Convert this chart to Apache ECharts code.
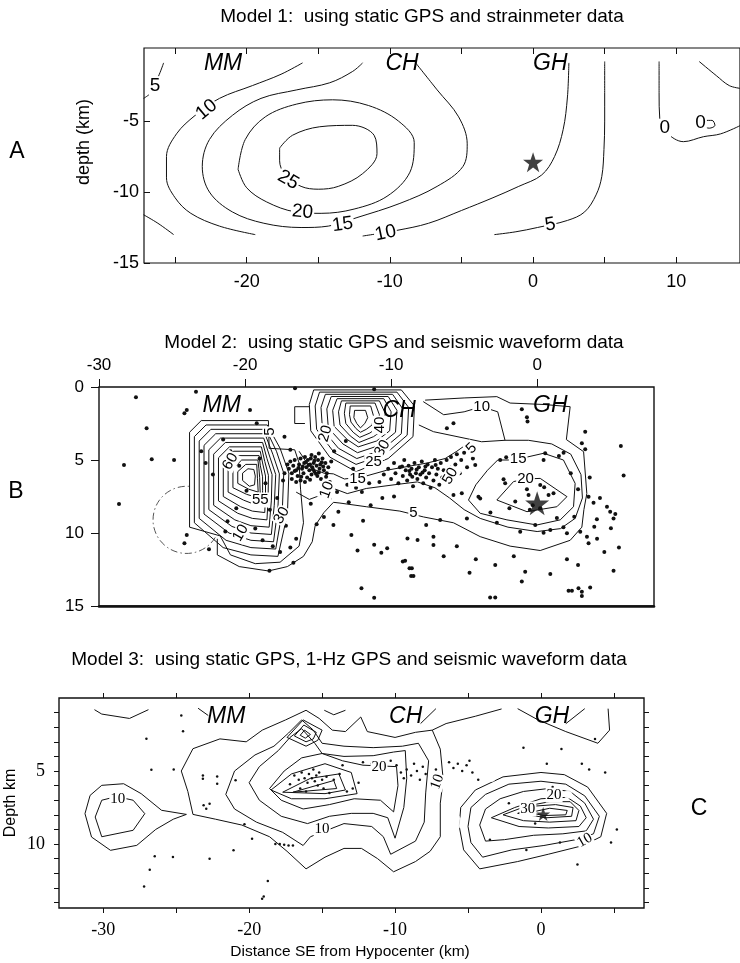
<!DOCTYPE html>
<html>
<head>
<meta charset="utf-8">
<script src="https://cdn.jsdelivr.net/npm/echarts@6/dist/echarts.min.js"></script>
<style>
  html, body { margin: 0; padding: 0; background: #fff; }
  #chart { width: 740px; height: 963px; }
</style>
</head>
<body>
<div id="chart"></div>
<script>
// ---------- panel A (Model 1) ----------
const ticksXA = [-25, -20, -15, -10, -5, 0, 5, 10]
const labelsXA = [-20, -10, 0, 10]
const ticksYA = [-15, -10, -5]

const a25 = [[-17.7,-6.9],[-16.8,-6.0],[-14.9,-5.4],[-12.6,-5.3],[-11.1,-6.0],[-10.9,-7.3],[-11.9,-8.7],[-13.6,-9.6],[-15.0,-9.8],[-16.2,-9.6],[-17.3,-8.8],[-17.7,-7.8],[-17.7,-6.9]]
const a20 = [[-20.6,-8.4],[-20.1,-6.3],[-18.7,-4.7],[-16.5,-3.8],[-14.0,-3.5],[-11.5,-3.9],[-9.4,-5.0],[-8.3,-6.5],[-8.6,-8.6],[-10.2,-10.3],[-12.5,-11.2],[-14.8,-11.5],[-16.6,-11.4],[-18.6,-10.7],[-20.0,-9.7],[-20.6,-8.4]]
const a15 = [[-11.9,-0.9],[-12.6,-1.5],[-14.2,-2.3],[-16.5,-2.8],[-19.0,-3.4],[-21.0,-4.6],[-22.6,-6.3],[-23.1,-8.2],[-22.6,-10.0],[-21.0,-11.4],[-18.8,-12.2],[-16.2,-12.5],[-14.3,-12.4],[-12.3,-11.8],[-9.3,-10.8],[-6.7,-9.6],[-4.9,-8.2],[-4.6,-6.6],[-5.2,-4.7],[-6.7,-2.8],[-8.2,-0.9]]
const a10L = [[-16.1,-0.9],[-17.6,-1.7],[-19.6,-2.5],[-21.9,-3.4],[-23.6,-4.6],[-24.9,-5.9],[-25.6,-7.5],[-25.6,-9.0],[-25.0,-10.4],[-23.9,-11.5],[-21.9,-12.4],[-19.4,-13.0]]
const a10R = [[-11.9,-13.1],[-9.5,-12.7],[-7.3,-12.2],[-5.0,-11.3],[-2.8,-10.4],[-1.0,-9.6],[0.6,-8.8],[1.5,-7.5],[2.1,-5.6],[2.4,-3.3],[2.5,-0.9]]
const a5R = [[-2.7,-13.0],[-1.2,-12.8],[0.3,-12.5],[2.4,-12.0],[3.6,-11.4],[4.4,-10.2],[4.8,-8.9],[4.95,-7.0],[5.0,-5.0],[5.0,-3.0],[5.0,-0.8]]
const a5TL = [[-25.8,-0.9],[-26.1,-1.7],[-26.7,-3.0],[-27.2,-3.4]]
const a5BL = [[-27.2,-11.6],[-26.2,-12.2],[-25.1,-13.0]]
const a0 = [[8.8,-0.8],[8.8,-3.0],[8.85,-4.9],[9.3,-5.8],[10.5,-6.45],[11.9,-6.1],[13.1,-5.9],[14.5,-5.3]]
const a0top = [[11.6,-0.8],[12.8,-1.8],[13.7,-2.5],[14.5,-2.7]]
const a0loop = [[11.9,-5.4],[12.0,-4.95],[12.5,-4.95],[12.7,-5.3],[12.3,-5.5],[11.9,-5.4]]
const contoursA = [a25, a20, a15, a10L, a10R, a5R, a5TL, a5BL, a0, a0top, a0loop]
const labelsA = [[-17.1,-9.15,'25'],[-16.1,-11.4,'20'],[-13.3,-12.3,'15'],[-10.3,-12.9,'10'],[-22.8,-4.2,'10'],[-26.4,-2.5,'5'],[1.2,-12.3,'5'],[9.2,-5.5,'0'],[11.7,-5.1,'0']]
const rotA = [-30, -5, 8, 12, 40, 0, 10, 0, 0]
const sitesA = [[-21.65,-0.95,'MM'],[-9.15,-0.95,'CH'],[1.2,-0.95,'GH']]
const hypoA = [[0, -7.9]]

// ---------- panel B (Model 2) ----------
const ticksXB = [-30, -20, -10, 0]
const ticksYB = [0, 5, 10, 15]

const bMM0 = [[-23.8,3.1],[-23.0,2.3],[-18.4,2.3],[-18.35,4.2],[-16.6,4.3],[-16.3,5.2],[-16.2,7.0],[-16.0,9.3],[-16.3,10.9],[-17.6,12.0],[-19.3,12.1],[-21.0,11.5],[-21.7,10.2],[-23.8,9.6],[-23.8,3.1]]
const bMM1 = [[-23.47,3.4],[-22.67,2.6],[-18.48,2.6],[-17.6,4.2],[-17.0,5.9],[-17.1,8.7],[-17.75,11.6],[-19.6,11.5],[-21.5,11.0],[-23.47,9.3],[-23.47,3.4]]
const bMM2 = [[-23.14,3.7],[-22.34,2.9],[-18.56,2.9],[-17.85,4.4],[-17.35,5.9],[-17.45,8.5],[-17.9,11.1],[-19.6,11.0],[-21.3,10.5],[-23.14,9.0],[-23.14,3.7]]
const bMM3 = [[-22.81,4.0],[-22.01,3.2],[-18.64,3.2],[-18.1,4.6],[-17.65,5.95],[-17.75,8.3],[-18.05,10.6],[-19.6,10.5],[-21.1,10.0],[-22.81,8.7],[-22.81,4.0]]
const bMM4 = [[-22.48,4.3],[-21.68,3.5],[-18.72,3.5],[-18.3,4.8],[-17.9,6.0],[-18.0,8.1],[-18.2,10.1],[-19.6,10.0],[-20.9,9.55],[-22.48,8.4],[-22.48,4.3]]
const bMM5 = [[-22.15,4.6],[-21.35,3.8],[-18.8,3.8],[-18.5,4.9],[-18.15,6.0],[-18.2,7.8],[-18.35,9.6],[-19.6,9.5],[-20.7,9.1],[-22.15,8.1],[-22.15,4.6]]
const bMM6 = [[-21.82,4.85],[-21.07,4.1],[-18.88,4.1],[-18.65,5.1],[-18.4,6.05],[-18.42,7.6],[-18.5,9.1],[-19.5,9.0],[-20.5,8.65],[-21.82,7.8],[-21.82,4.85]]
const bMM7 = [[-21.49,5.1],[-20.79,4.4],[-18.96,4.4],[-18.8,5.2],[-18.6,6.1],[-18.6,7.3],[-18.65,8.6],[-19.5,8.5],[-20.3,8.2],[-21.49,7.5],[-21.49,5.1]]
const bMM8 = [[-21.16,5.35],[-20.51,4.7],[-19.04,4.7],[-18.95,5.4],[-18.8,6.15],[-18.8,7.1],[-18.8,8.1],[-19.45,8.0],[-20.1,7.75],[-21.16,7.2],[-21.16,5.35]]
const bMM9 = [[-20.83,5.6],[-20.23,5.0],[-19.12,5.0],[-19.05,5.6],[-19.0,6.2],[-18.95,7.6],[-19.4,7.5],[-19.9,7.35],[-20.83,6.9],[-20.83,5.6]]
const bMM10 = [[-20.5,5.8],[-19.95,5.3],[-19.2,5.3],[-19.15,6.25],[-19.1,7.2],[-19.75,7.0],[-20.5,6.6],[-20.5,5.8]]
const bMM11 = [[-20.17,5.9],[-19.8,5.6],[-19.4,5.65],[-19.3,6.1],[-19.35,6.7],[-19.7,6.8],[-20.17,6.4],[-20.17,5.9]]
const bCH0 = [[-15.3,0.2],[-9.3,0.2],[-8.4,1.3],[-8.5,3.4],[-10.2,4.9],[-12.4,5.8],[-14.2,4.8],[-15.5,3.0],[-15.6,1.2],[-15.3,0.2]]
const bCH1 = [[-14.9,0.35],[-9.6,0.35],[-8.8,1.4],[-8.9,3.3],[-10.4,4.6],[-12.4,5.3],[-13.9,4.5],[-15.1,2.9],[-15.2,1.3],[-14.9,0.35]]
const bCH2 = [[-14.5,0.5],[-9.9,0.5],[-9.2,1.5],[-9.3,3.2],[-10.6,4.3],[-12.35,4.9],[-13.6,4.2],[-14.7,2.9],[-14.8,1.4],[-14.5,0.5]]
const bCH3 = [[-14.1,0.65],[-10.2,0.65],[-9.6,1.6],[-9.7,3.1],[-10.8,4.0],[-12.3,4.5],[-13.3,3.9],[-14.3,2.8],[-14.4,1.5],[-14.1,0.65]]
const bCH4 = [[-13.7,0.8],[-10.5,0.8],[-10.0,1.7],[-10.1,3.0],[-11.0,3.7],[-12.25,4.1],[-13.0,3.6],[-13.9,2.7],[-14.0,1.6],[-13.7,0.8]]
const bCH5 = [[-13.4,0.95],[-10.8,0.95],[-10.4,1.8],[-10.5,2.9],[-11.2,3.4],[-12.2,3.8],[-12.8,3.35],[-13.5,2.6],[-13.6,1.7],[-13.4,0.95]]
const bCH6 = [[-13.1,1.1],[-11.1,1.1],[-10.8,1.9],[-10.9,2.75],[-11.45,3.15],[-12.15,3.45],[-12.6,3.1],[-13.1,2.5],[-13.2,1.8],[-13.1,1.1]]
const bCH7 = [[-12.8,1.3],[-11.4,1.3],[-11.2,2.0],[-11.3,2.6],[-11.7,2.9],[-12.1,3.1],[-12.4,2.85],[-12.75,2.4],[-12.85,1.9],[-12.8,1.3]]
const bCH8 = [[-12.5,1.6],[-11.75,1.6],[-11.6,2.1],[-11.8,2.5],[-12.1,2.8],[-12.35,2.5],[-12.55,2.1],[-12.5,1.6]]
const bStep = [[-15.9,2.5],[-16.6,2.5],[-16.6,1.35],[-15.6,1.35]]
const bBot = [[-21.9,10.4],[-21.9,11.5],[-20.4,12.3],[-18.4,12.6],[-17.1,12.3],[-16.0,11.6],[-15.4,10.6],[-15.2,9.5],[-14.6,8.6],[-13.95,7.9]]
const bMid15 = [[-16.3,4.4],[-15.9,5.0],[-15.4,5.6],[-14.6,5.9],[-13.95,5.95],[-13.2,6.3],[-11.9,6.15],[-10.3,5.7],[-8.9,5.45],[-7.5,5.2],[-6.3,4.9],[-5.5,4.4],[-4.8,3.9]]
const bMid10 = [[-16.5,7.2],[-15.6,7.7],[-14.8,7.4],[-14.2,6.85],[-13.0,7.3],[-11.7,6.95],[-9.8,6.7],[-8.2,6.5],[-7.0,6.9],[-6.0,7.6],[-5.0,8.4],[-3.9,9.0],[-2.0,9.6],[0.0,9.9],[1.6,9.7],[2.6,9.0],[3.1,7.6],[3.0,6.0],[2.3,4.6],[1.0,3.9],[-0.6,3.65],[-2.2,3.65]]
const bTongue = [[-7.8,1.0],[-6.4,1.9],[-5.0,1.7],[-3.8,1.35],[-2.7,1.7],[-2.2,3.65],[-3.8,3.75],[-7.1,3.06],[-8.1,2.6]]
const bGH5 = [[-7.67,0.9],[-5.0,0.75],[-2.76,0.66],[-1.85,1.1],[0.5,1.2],[2.26,1.35],[2.0,3.6],[3.18,4.43],[3.4,7.3],[3.2,8.4],[3.06,9.6],[2.26,10.5],[0.21,11.2],[-1.85,10.9],[-3.9,10.25],[-5.73,9.3],[-7.78,8.9],[-9.4,8.5],[-11.7,8.2],[-13.5,7.95],[-13.95,7.9]]
const bGH15 = [[-1.9,5.0],[-2.7,5.0],[-3.4,5.7],[-4.2,6.7],[-4.7,7.74],[-3.9,8.65],[-2.07,9.1],[-0.02,9.45],[1.58,9.1],[2.49,8.2],[2.6,6.6],[1.8,5.0],[0.44,4.54],[-0.7,4.8],[-1.9,5.0]]
const bGH20 = [[-2.76,7.74],[-1.62,6.48],[-0.8,6.3],[0.21,6.26],[2.04,7.51],[1.35,8.2],[-0.7,8.54],[-2.76,7.74]]
const contoursB = [bMM0, bMM1, bMM2, bMM3, bMM4, bMM5, bMM6, bMM7, bMM8, bMM9, bMM10, bMM11,
  bCH0, bCH1, bCH2, bCH3, bCH4, bCH5, bCH6, bCH7, bCH8, bStep, bBot, bMid15, bMid10, bTongue, bGH5, bGH15, bGH20]
const circleB = [[-24.0, 9.1, 2.3]]
const labelsB = [[-21.0,5.1,'60'],[-18.96,7.74,'55'],[-17.5,8.8,'30'],[-20.3,10.0,'10'],[-18.3,3.06,'5'],
  [-14.5,3.2,'20'],[-10.8,2.6,'40'],[-10.6,4.2,'30'],[-11.2,5.1,'25'],[-12.3,6.3,'15'],[-14.4,7.05,'10'],
  [-3.8,1.35,'10'],[-1.3,4.95,'15'],[-0.8,6.26,'20'],[-8.47,8.65,'5'],[-4.5,4.2,'5'],[-5.95,6.1,'50']]
const rotB = [60, 0, 60, 60, 90, 75, 90, 60, 0, 0, 70, 0, 0, 0, 0, 45, 60]
const sitesB = [[-21.6,1.25,'MM'],[-9.45,1.6,'CH'],[0.9,1.25,'GH']]
const hypoB = [[0, 7.97]]

const dotsB1 = [[-17.1,5.3],[-17.0,5.6],[-16.9,5.1],[-16.8,5.9],[-16.7,5.4],[-16.6,5.0],[-16.5,5.7],[-16.4,6.1],[-16.3,5.3],[-16.2,4.9],
  [-16.1,5.6],[-16.0,5.9],[-15.95,5.2],[-15.9,4.8],[-15.8,5.5],[-15.75,6.2],[-15.7,5.0],[-15.6,5.7],[-15.55,5.3],[-15.5,4.9],
  [-15.45,6.0],[-15.4,5.5],[-15.3,5.2],[-15.25,5.8],[-15.2,4.8],[-15.1,5.4],[-15.05,6.1],[-15.0,5.0],[-14.9,5.6],[-14.85,5.3],
  [-14.8,6.3],[-14.7,4.9],[-14.6,5.7],[-14.5,5.2],[-14.4,5.9],[-14.3,5.5],[-14.2,6.5],[-14.1,5.1],[-16.8,6.3],[-16.5,6.5],
  [-16.2,6.4],[-15.9,6.5],[-17.3,5.9],[-17.4,6.4],[-16.05,5.45],[-15.65,5.35],[-15.35,5.65],[-15.15,5.95],[-16.35,5.55],[-15.85,5.15],
  [-15.55,6.35],[-14.95,5.85],[-14.65,5.45],[-16.6,5.75],[-15.25,5.05],[-14.75,5.15],[-14.45,6.15],[-16.15,6.15],[-15.45,4.65],[-14.95,4.55]]
const dotsB2 = [[-10.8,6.5],[-10.5,6.0],[-10.2,5.6],[-10.0,6.3],[-9.8,5.2],[-9.7,5.9],[-9.5,6.6],[-9.4,5.5],[-9.2,6.1],[-9.1,5.0],
  [-9.0,5.7],[-8.9,6.4],[-8.8,5.4],[-8.7,6.0],[-8.6,5.6],[-8.5,6.8],[-8.4,5.2],[-8.3,5.9],[-8.2,6.3],[-8.1,5.5],
  [-8.0,6.0],[-7.9,5.1],[-7.8,6.6],[-7.7,5.7],[-7.6,6.2],[-7.5,5.3],[-7.4,5.9],[-7.3,6.9],[-7.2,5.5],[-7.1,6.4],
  [-7.0,5.0],[-6.9,6.0],[-6.8,5.6],[-6.7,6.7],[-6.6,5.2],[-6.5,6.2],[-6.4,5.7],[-6.2,5.0],[-6.1,6.5],[-6.0,5.5],
  [-5.9,4.8],[-5.8,6.1],[-5.6,5.3],[-5.5,4.6],[-5.3,5.9],[-5.2,5.0],[-5.0,4.5],[-4.8,5.5],[-4.6,4.3],[-4.4,4.9],
  [-8.75,5.75],[-8.25,5.65],[-7.85,5.85],[-8.55,6.15],[-7.65,5.45],[-9.25,5.45],[-6.95,5.35],[-11.5,6.6],[-11.8,6.0],[-12.4,6.9],
  [-13.0,6.7],[-12.0,7.2]]
const dotsB3 = [[-23.0,4.4],[-22.7,5.2],[-22.2,6.0],[-21.5,3.6],[-21.0,4.4],[-20.4,5.4],[-19.9,7.1],[-20.6,8.3],[-21.2,9.2],[-19.3,9.7],
  [-18.8,10.5],[-18.1,10.9],[-17.6,11.3],[-16.9,11.0],[-16.5,10.4],[-17.2,9.5],[-18.3,8.4],[-17.8,7.6],[-18.6,6.6],[-19.0,4.9],
  [-18.5,3.3],[-17.3,3.4],[-16.9,4.3],[-15.5,8.0],[-15.1,9.4],[-14.6,8.9],[-14.2,7.6],[-13.7,7.2],[-12.9,7.9],[-11.4,8.1],
  [-10.6,7.6],[-9.8,7.5],[-10.9,4.4],[-11.7,4.9],[-13.1,3.7],[-12.6,5.6],[-13.9,4.4],
  [-27.47,0.71],[-23.36,0.32],[-26.74,2.83],[-26.39,4.95],[-24.86,5.0],[-28.29,5.34],[-28.63,8.01],[-23.99,1.58],[-24.15,1.8],
  [-19.66,1.58],[-19.2,2.49],[-16.58,0.09],[-11.16,0.16],[-12.72,10.14],[-12.3,11.2],[-11.16,10.8],[-10.67,11.35],[-10.27,11.05],
  [-9.2,11.96],[-8.74,12.42],[-8.63,12.95],[-12.03,13.79],[-11.16,14.43],[-13.61,8.54],[-13.95,9.45],[-11.92,9.16],[-8.88,10.37],
  [-23.99,10.14],[-24.15,10.7],[-22.47,11.12],[-16.69,12.03],[-18.33,12.58],[-21.35,9.9]]
const dotsB4 = [[-1.05,1.53],[-0.7,2.08],[-0.66,2.37],[3.29,3.06],[3.06,3.86],[3.29,4.27],[5.73,4.04],[5.92,6.07],[3.52,7.51],[3.86,7.92],
  [4.78,8.2],[5.0,8.54],[5.35,8.7],[5.23,9.0],[5.05,9.68],[4.09,9.06],[3.91,9.57],[3.41,10.25],[2.95,9.91],[2.54,8.88],
  [2.04,10.02],[3.52,10.71],[2.04,11.8],[5.23,12.58],[-0.82,12.65],[-1.05,13.33],[-2.87,12.19],[-4.63,12.72],[-7.1,10.25],[-7.1,10.82],
  [-8.19,10.48],[-9.04,11.9],[-8.58,12.42],[-8.47,12.95],[-3.22,14.41],[-2.87,14.41],[2.15,13.95],[2.38,13.95],[2.83,13.79],[3.06,14.02],
  [3.06,14.32],[3.63,13.74],[-7.6,9.45],[-6.64,9.11],[-5.73,7.4],[-5.16,7.28],[-3.9,7.63],[-2.3,6.32],[-2.19,6.6],[-1.5,7.85],
  [-0.7,7.0],[-0.59,7.4],[0.21,6.71],[0.48,6.87],[0.78,7.4],[1.12,7.28],[-2.76,9.29],[-1.16,9.91],[-0.13,9.45],[0.44,9.98],
  [1.35,8.97],[-4.81,9.0],[-4.02,7.51],[-6.18,2.83],[-5.73,2.49],[0.44,5.0],[0.55,4.54],[1.49,4.73],[1.81,4.5],[-2.53,5.0],
  [-2.12,4.82],[-4.24,5.34],[-0.3,8.1],[0.2,8.3],[-0.5,8.4],[1.8,9.6],[0.9,9.8],[-1.9,8.3],[-3.2,8.6],[2.3,5.9],
  [2.8,7.0],[3.6,6.2],[4.3,7.6],[4.1,10.4],[4.6,11.3],[5.6,11.0],[-5.5,10.9],[-6.4,11.6],[-4.2,11.8],[-1.6,11.6],[0.9,12.8],[2.8,12.2]]

// ---------- panel C (Model 3) ----------
const ticksXC = [-30, -25, -20, -15, -10, -5, 0, 5]
const labelsXC = [-30, -20, -10, 0]
const ticksYC = [1, 2, 3, 4, 5, 6, 7, 8, 9, 10, 11, 12, 13, 14]
const labelsYC = [5, 10]

const cTL = [[-30.6,0.8],[-30.1,1.1],[-28.2,1.4],[-26.9,0.8]]
const cTMM = [[-23.5,0.7],[-22.8,1.2]]
const cTV = [[-14.85,0.84],[-14.2,1.15],[-13.4,0.84]]
const cCHs = [[-8.25,1.75],[-7.2,0.73]]
const cTR = [[-7.45,2.2],[-6.5,1.75],[-4.5,1.25],[-2.7,0.75]]
const cGHtop = [[-1.6,0.73],[-0.2,1.5],[1.7,2.3],[3.9,3.1],[4.7,2.2],[4.6,0.73]]
const cGHs = [[1.7,1.76],[3.0,0.73]]
const cLin = [[-30.1,7.0],[-29.5,6.85],[-28.4,6.9],[-27.95,7.0],[-27.15,7.92],[-27.95,9.06],[-30.1,9.5],[-30.55,8.15],[-30.1,7.0]]
const cLout = [[-24.3,7.97],[-26.0,7.69],[-27.4,6.55],[-28.6,5.87],[-30.1,5.98],[-30.9,6.67],[-31.25,7.92],[-30.8,9.52],[-29.5,10.43],[-27.7,10.09],[-26.4,9.0],[-25.2,8.3],[-24.3,7.97]]
const cM5 = [[-23.85,7.97],[-24.2,6.4],[-24.65,5.0],[-23.85,3.47],[-22.0,2.8],[-20.2,3.0],[-19.1,2.2],[-17.5,1.5],[-16.1,0.84],[-15.2,1.4],
  [-14.3,2.2],[-13.4,2.3],[-12.35,1.3],[-11.9,2.3],[-10.0,2.7],[-8.6,2.35],[-7.45,2.2],[-6.9,3.5],[-6.7,5.6],[-6.9,7.2],
  [-6.9,9.5],[-7.6,10.5],[-8.6,11.2],[-10.1,11.9],[-11.2,11.0],[-12.3,10.3],[-13.5,10.3],[-14.8,10.9],[-16.1,11.7],[-17.4,10.5],
  [-18.6,9.5],[-20.5,8.7],[-22.3,8.3],[-23.85,7.97]]
const cM10 = [[-21.6,6.6],[-21.0,5.0],[-19.6,3.9],[-18.3,3.3],[-17.3,2.4],[-16.4,1.5],[-15.6,2.2],[-15.0,3.1],[-13.5,3.3],[-11.5,3.4],
  [-9.5,3.3],[-8.4,3.1],[-7.7,4.3],[-7.9,6.5],[-8.0,8.5],[-8.6,9.8],[-10.3,10.7],[-10.8,9.5],[-11.6,8.8],[-13.5,8.6],
  [-15.8,9.5],[-16.3,10.1],[-17.7,9.2],[-19.5,8.5],[-21.0,7.6],[-21.6,6.6]]
const cM15 = [[-20.0,5.8],[-19.3,4.7],[-18.0,3.6],[-17.2,2.7],[-16.4,2.1],[-15.5,3.1],[-15.0,3.8],[-13.5,4.0],[-11.5,3.95],[-10.1,3.7],
  [-9.3,3.6],[-9.2,5.5],[-9.4,7.5],[-10.0,9.6],[-10.5,8.2],[-11.5,7.9],[-13.0,7.9],[-14.5,8.1],[-16.0,8.6],[-17.8,8.1],[-19.3,7.0],[-20.0,5.8]]
const cM20 = [[-18.6,6.2],[-17.6,5.0],[-16.4,4.1],[-15.0,3.8],[-13.6,4.3],[-12.2,4.6],[-9.9,4.7],[-9.8,6.0],[-10.1,7.8],[-11.0,7.0],
  [-12.8,6.9],[-14.5,7.3],[-16.3,7.6],[-17.8,7.0],[-18.6,6.2]]
const cM25 = [[-18.5,6.3],[-17.1,5.2],[-14.8,4.5],[-13.0,5.1],[-12.6,6.55],[-14.8,6.9],[-17.1,6.9],[-18.5,6.3]]
const cM30 = [[-17.7,6.45],[-15.8,5.5],[-13.85,5.2],[-13.4,6.3],[-14.8,6.55],[-17.7,6.45]]
const cM35 = [[-17.0,6.45],[-14.2,5.65],[-14.0,6.2],[-17.0,6.45]]
const cQ1 = [[-17.4,2.7],[-16.3,1.5],[-15.0,2.2],[-15.3,2.9],[-16.1,3.3],[-17.4,2.7]]
const cQ2 = [[-16.9,2.6],[-16.25,1.85],[-15.4,2.35],[-15.6,2.8],[-16.1,3.0],[-16.9,2.6]]
const cQ3 = [[-16.5,2.55],[-16.2,2.2],[-15.8,2.5],[-16.15,2.75],[-16.5,2.55]]
const cO1 = [[-5.6,8.8],[-5.5,7.5],[-4.5,6.3],[-2.6,5.4],[0.0,5.1],[1.6,5.25],[3.2,6.1],[4.5,7.9],[4.1,9.5],[2.9,10.1],[0.5,10.7],[-1.6,11.2],[-4.2,11.7],[-5.3,10.4],[-5.6,8.8]]
const cO2 = [[-5.0,8.8],[-4.8,7.5],[-3.8,6.6],[-2.2,5.9],[0.0,5.7],[1.7,5.9],[3.0,6.7],[4.0,8.1],[3.6,9.3],[2.4,9.7],[0.2,10.1],[-2.0,10.4],[-4.0,10.9],[-4.8,9.9],[-5.0,8.8]]
const cO3 = [[-4.2,8.7],[-3.8,7.6],[-2.8,6.9],[-1.2,6.4],[0.5,6.2],[2.0,6.4],[3.0,7.2],[3.6,8.3],[3.1,9.1],[1.5,9.3],[-0.5,9.4],[-2.5,9.7],[-3.8,9.8],[-4.2,8.7]]
const cO4 = [[-3.4,8.2],[-1.8,7.5],[0.0,6.9],[1.8,6.8],[2.7,7.4],[3.1,8.2],[2.6,8.8],[0.5,8.9],[-1.5,8.8],[-3.4,8.2]]
const cO5 = [[-2.6,8.0],[-1.0,7.4],[0.6,7.1],[2.0,7.1],[2.6,7.7],[2.4,8.4],[0.6,8.5],[-1.2,8.4],[-2.6,8.0]]
const cO6 = [[-1.6,7.9],[-0.4,7.4],[1.0,7.3],[2.2,7.5],[2.1,8.1],[0.4,8.2],[-1.6,7.9]]
const cO7 = [[-0.8,7.85],[0.6,7.55],[1.8,7.7],[1.7,8.0],[0.2,8.05],[-0.8,7.85]]
const contoursC = [cTL, cTMM, cTV, cCHs, cTR, cGHtop, cGHs, cLin, cLout, cM5, cM10, cM15, cM20, cM25, cM30, cM35,
  cQ1, cQ2, cQ3, cO1, cO2, cO3, cO4, cO5, cO6, cO7]
const labelsC = [[-29.0,6.95,'10'],[-15.0,9.0,'10'],[-7.1,5.75,'10'],[-11.1,4.7,'20'],[0.9,6.65,'20'],[-0.9,7.6,'30'],[3.0,9.75,'10']]
const rotC = [0, 0, 70, 0, 0, 0, 30]
const sitesC = [[-21.57,1.3,'MM'],[-9.27,1.3,'CH'],[0.75,1.3,'GH']]
const hypoC = [[0.15, 7.95]]
const bigCirclesC = [[-25.0,10.1],[-19.5,11.45],[-6.0,8.5]]
const smallCirclesC = [[-18.85,10.15],[1.85,6.6],[-3.4,5.45],[-3.25,9.1],[-2.85,9.05]]
const dotsC = [[-16.9,5.3],[-16.6,5.6],[-16.4,5.1],[-16.2,5.5],[-16.0,5.8],[-15.9,5.2],[-15.7,5.5],[-15.6,4.9],[-15.5,5.7],[-15.4,5.3],
  [-15.3,6.0],[-15.2,5.1],[-15.0,5.6],[-14.9,6.2],[-14.7,5.4],[-14.5,6.5],[-16.5,6.2],[-16.1,6.4],[-17.2,5.9],[-14.2,5.6],
  [-13.8,5.2],[-13.3,6.4],[-12.9,6.2],[-12.5,5.8],[-13.6,4.6],[-12.2,4.4],[-11.6,4.5],[-11.2,5.0],[-10.3,4.3],[-9.9,4.6],
  [-9.6,5.1],[-9.4,5.5],[-9.2,4.9],[-8.9,5.3],[-8.7,4.5],[-8.5,5.0],[-8.3,5.6],[-8.1,4.7],[-7.9,5.2],[-6.3,4.4],
  [-6.0,4.8],[-5.7,4.5],[-5.4,5.0],[-5.1,4.6],[-4.9,4.3],[-4.7,5.1],[-7.5,5.8],[-7.2,4.9],[-4.3,5.6],[-1.2,3.4],
  [0.4,4.5],[1.4,3.5],[2.8,4.5],[3.3,4.9],[4.4,5.1],[3.7,2.8],[5.2,9.0],[4.8,9.9],[2.5,11.4],[-1.0,10.4],
  [-3.5,9.7],[-2.2,7.2],[0.8,6.1],[-0.4,8.6],[1.3,9.9],
  [-27.04,2.79],[-24.65,1.19],[-24.53,2.28],[-26.7,4.91],[-25.17,4.89],[-23.17,5.3],[-23.17,5.53],[-22.19,5.37],[-22.19,5.87],[-22.71,7.24],
  [-23.12,7.35],[-22.94,7.58],[-20.93,5.64],[-20.32,8.65],[-19.8,9.63],[-21.07,10.43],[-22.71,11.0],[-25.22,10.89],[-26.81,11.76],[-26.47,10.84],
  [-18.72,12.53],[-19.11,13.74],[-19.0,13.6],[-18.2,10.0],[-17.9,10.0],[-17.6,10.05],[-17.3,10.1],[-17.0,10.1],[-27.2,12.9]]

// ---------- chart ----------
const INK = '#111'
const SANS = 'Liberation Sans, Arial, sans-serif'
const SERIF = 'Liberation Serif, Times New Roman, serif'
const STAR = 'path://M50,2 L61.8,36.2 L97.6,36.2 L68.6,57.4 L79.6,91.6 L50,70.4 L20.4,91.6 L31.4,57.4 L2.4,36.2 L38.2,36.2 Z'

function contourSeries(pts, xi, yi, smooth) {
  return {
    type: 'line', xAxisIndex: xi, yAxisIndex: yi, data: pts,
    showSymbol: false, symbol: 'none', smooth: smooth || false,
    lineStyle: { color: INK, width: 1 }, silent: true, animation: false, z: 3
  }
}

function textSeries(items, rots, xi, yi, labelStyle) {
  return {
    type: 'scatter', xAxisIndex: xi, yAxisIndex: yi, symbolSize: 0.01, silent: true, animation: false, z: 8,
    itemStyle: { color: '#fff' },
    data: items.map((d, i) => ({ value: [d[0], d[1]], name: d[2], label: { rotate: rots ? rots[i] : 0 } })),
    label: Object.assign({ show: true, position: 'inside', formatter: p => p.name, color: '#000',
      opacity: 1, textBorderWidth: 0 }, labelStyle)
  }
}

function dotSeries(pts, xi, yi, size) {
  return {
    type: 'scatter', xAxisIndex: xi, yAxisIndex: yi, data: pts, symbolSize: size,
    itemStyle: { color: INK, opacity: 1 }, silent: true, animation: false, z: 5
  }
}

const siteStyle = { fontSize: 23, fontStyle: 'italic', fontFamily: SANS }
const cLabelBg = { backgroundColor: '#fff', padding: [0, 1] }

const series = []
contoursA.forEach(c => series.push(contourSeries(c, 0, 0, 0.35)))
series.push(textSeries(labelsA, rotA, 0, 0, Object.assign({ fontSize: 19, fontFamily: SANS }, cLabelBg)))
series.push(textSeries(sitesA, null, 0, 0, siteStyle))
series.push({ type: 'scatter', xAxisIndex: 0, yAxisIndex: 0, data: hypoA, symbol: STAR, symbolSize: 20,
  itemStyle: { color: INK }, silent: true, animation: false, z: 6 })

contoursB.forEach(c => series.push(contourSeries(c, 2, 1)))
series.push({
  type: 'custom', xAxisIndex: 2, yAxisIndex: 1, data: circleB, silent: true, animation: false, z: 2,
  renderItem: (params, api) => {
    const c = api.coord([api.value(0), api.value(1)])
    const r = api.size([api.value(2), 0])[0]
    return {
      type: 'arc',
      shape: { cx: c[0], cy: c[1], r: r, startAngle: 0.55, endAngle: 4.8, clockwise: true },
      style: { stroke: '#555', fill: null, lineWidth: 1, lineDash: [7, 3, 1.5, 3] }
    }
  }
})
;[dotsB1, dotsB2, dotsB3, dotsB4].forEach(d => series.push(dotSeries(d, 2, 1, 4)))
series.push(textSeries(labelsB, rotB, 2, 1, Object.assign({ fontSize: 15, fontFamily: SANS }, cLabelBg)))
series.push(textSeries(sitesB, null, 2, 1, siteStyle))
series.push({ type: 'scatter', xAxisIndex: 2, yAxisIndex: 1, data: hypoB, symbol: STAR, symbolSize: 24,
  itemStyle: { color: INK }, silent: true, animation: false, z: 7 })

contoursC.forEach(c => series.push(contourSeries(c, 4, 2)))
series.push(dotSeries(dotsC, 4, 2, 2.5))
series.push({ type: 'scatter', xAxisIndex: 4, yAxisIndex: 2, data: bigCirclesC, symbol: 'emptyCircle', symbolSize: 15,
  itemStyle: { color: '#fff', borderColor: INK, borderWidth: 1 }, silent: true, animation: false, z: 4 })
series.push({ type: 'scatter', xAxisIndex: 4, yAxisIndex: 2, data: smallCirclesC, symbol: 'emptyCircle', symbolSize: 7,
  itemStyle: { color: '#fff', borderColor: INK, borderWidth: 1 }, silent: true, animation: false, z: 4 })
series.push(textSeries(labelsC, rotC, 4, 2, Object.assign({ fontSize: 15, fontFamily: SERIF }, cLabelBg)))
series.push(textSeries(sitesC, null, 4, 2, siteStyle))
series.push({ type: 'scatter', xAxisIndex: 4, yAxisIndex: 2, data: hypoC, symbol: STAR, symbolSize: 14,
  itemStyle: { color: INK }, silent: true, animation: false, z: 7 })

const noSplit = { show: false }
const tickStyle = { color: INK, width: 1 }
const hiddenLine = { show: false, onZero: false }

function freeText(text, x, y, font, rotation) {
  return { type: 'text', x: x, y: y, rotation: rotation || 0, silent: true,
    style: { text: text, font: font, fill: '#000', textAlign: 'center', textVerticalAlign: 'middle', align: 'center', verticalAlign: 'middle' } }
}

const option = {
  backgroundColor: '#fff',
  animation: false,
  grid: [
    { left: 144, top: 48, width: 598, height: 215, show: true, borderColor: INK, borderWidth: 1.2, backgroundColor: 'rgba(0,0,0,0)' },
    { left: 99, top: 387, width: 555, height: 219, show: true, borderColor: INK, borderWidth: 1.4, backgroundColor: 'rgba(0,0,0,0)' },
    { left: 59, top: 698, width: 585, height: 210, show: true, borderColor: INK, borderWidth: 1.4, backgroundColor: 'rgba(0,0,0,0)' }
  ],
  xAxis: [
    { gridIndex: 0, type: 'value', min: -27.17, max: 14.45, position: 'bottom', axisLine: hiddenLine, splitLine: noSplit,
      axisTick: { show: true, inside: true, length: 6, customValues: ticksXA, lineStyle: tickStyle },
      axisLabel: { customValues: labelsXA, margin: 10, fontSize: 18, color: '#000', fontFamily: SANS } },
    { gridIndex: 0, type: 'value', min: -27.17, max: 14.45, position: 'top', axisLine: hiddenLine, splitLine: noSplit,
      axisTick: { show: true, inside: true, length: 6, customValues: ticksXA, lineStyle: tickStyle },
      axisLabel: { show: false } },
    { gridIndex: 1, type: 'value', min: -30, max: 8, position: 'top', axisLine: hiddenLine, splitLine: noSplit,
      axisTick: { show: true, length: 8, customValues: ticksXB, lineStyle: tickStyle },
      axisLabel: { customValues: ticksXB, margin: 13, fontSize: 17, color: '#000', fontFamily: SANS } },
    { gridIndex: 1, type: 'value', min: -30, max: 8, position: 'bottom', splitLine: noSplit,
      axisLine: { show: true, onZero: false, lineStyle: { color: INK, width: 2.6 } }, axisTick: { show: false }, axisLabel: { show: false } },
    { gridIndex: 2, type: 'value', min: -33.03, max: 7.06, position: 'bottom', axisLine: hiddenLine, splitLine: noSplit,
      axisTick: { show: true, length: 5, customValues: ticksXC, lineStyle: tickStyle },
      axisLabel: { customValues: labelsXC, margin: 13, fontSize: 18, color: '#000', fontFamily: SERIF } },
    { gridIndex: 2, type: 'value', min: -33.03, max: 7.06, position: 'top', axisLine: hiddenLine, splitLine: noSplit,
      axisTick: { show: true, length: 5, customValues: ticksXC, lineStyle: tickStyle }, axisLabel: { show: false } }
  ],
  yAxis: [
    { gridIndex: 0, type: 'value', min: -15, max: 0.15, position: 'left', axisLine: hiddenLine, splitLine: noSplit,
      axisTick: { show: true, inside: true, length: 6, customValues: ticksYA, lineStyle: tickStyle },
      axisLabel: { customValues: ticksYA, margin: 5, fontSize: 18, color: '#000', fontFamily: SANS } },
    { gridIndex: 1, type: 'value', min: 0, max: 15, inverse: true, position: 'left', axisLine: hiddenLine, splitLine: noSplit,
      axisTick: { show: true, length: 8, customValues: ticksYB, lineStyle: tickStyle },
      axisLabel: { customValues: ticksYB, margin: 15, fontSize: 17, color: '#000', fontFamily: SANS } },
    { gridIndex: 2, type: 'value', min: 0, max: 14.38, inverse: true, position: 'left', axisLine: hiddenLine, splitLine: noSplit,
      axisTick: { show: true, length: 5, customValues: ticksYC, lineStyle: tickStyle },
      axisLabel: { customValues: labelsYC, margin: 14, fontSize: 18, color: '#000', fontFamily: SERIF } },
    { gridIndex: 2, type: 'value', min: 0, max: 14.38, inverse: true, position: 'right', axisLine: hiddenLine, splitLine: noSplit,
      axisTick: { show: true, length: 5, customValues: ticksYC, lineStyle: tickStyle }, axisLabel: { show: false } }
  ],
  graphic: [
    freeText('Model 1:  using static GPS and strainmeter data', 422, 17, '19px ' + SANS),
    freeText('Model 2:  using static GPS and seismic waveform data', 394, 343, '19px ' + SANS),
    freeText('Model 3:  using static GPS, 1-Hz GPS and seismic waveform data', 349, 660, '19px ' + SANS),
    freeText('A', 17, 152, '23px ' + SANS),
    freeText('B', 16, 492, '23px ' + SANS),
    freeText('C', 699, 809, '23px ' + SANS),
    freeText('depth (km)', 84, 142, '18px ' + SANS, Math.PI / 2),
    freeText('Depth km', 11, 803, '16px ' + SANS, Math.PI / 2),
    freeText('Distance SE from Hypocenter (km)', 350, 952, '15.5px ' + SANS)
  ],
  series: series
}

const chart = echarts.init(document.getElementById('chart'), null, { renderer: 'canvas' })
chart.setOption(option)
</script>
</body>
</html>
